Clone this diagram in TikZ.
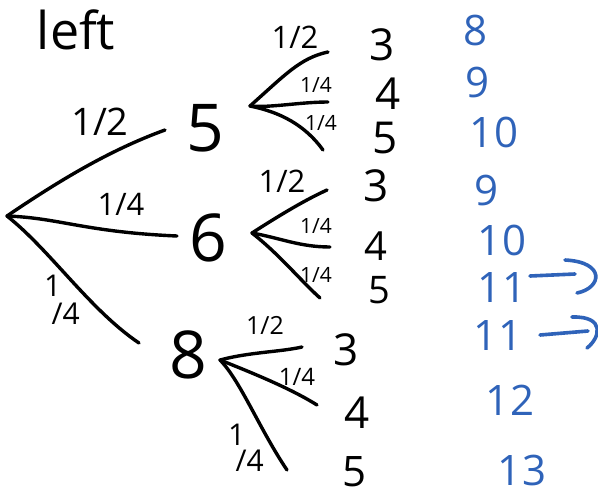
\documentclass[tikz,border=0pt]{standalone}
\usepackage{fontspec}
\setmainfont{Open Sans}
\definecolor{penblue}{HTML}{2F63B9}
\begin{document}
\begin{tikzpicture}[x=1pt,y=-1pt,line cap=round,line join=round,
  br/.style={line width=3.4pt},
  bbr/.style={line width=3.6pt,draw=penblue},
  lab/.style={inner sep=0pt},
  bignum/.style={lab,font=\fontsize{66}{66}\selectfont},
  leaf/.style={lab,font=\fontsize{44}{44}\selectfont},
  fracA/.style={lab,font=\fontsize{38}{38}\selectfont},
  fracB/.style={lab,font=\fontsize{31}{31}\selectfont},
  fracC/.style={lab,font=\fontsize{21}{21}\selectfont},
  stack/.style={lab,align=left,font=\fontsize{30}{26}\selectfont},
  bnum/.style={lab,text=penblue,font=\fontsize{42}{42}\selectfont}]
\useasboundingbox (0,0) rectangle (598,499);

% title
\node[lab,font=\fontsize{52}{52}\selectfont] (title) at (76,30) {left};

% root
\coordinate (r) at (7,216);
\coordinate (a5) at (165,130);
\coordinate (a6) at (177,236);
\coordinate (a8) at (139,343);
\draw[br] (r) .. controls (60,180) and (110,150) .. (a5);
\draw[br] (r) .. controls (60,218) and (85,232) .. (a6);
\draw[br] (r) .. controls (50,250) and (90,310) .. (a8);
\node[fracA] (f1) at (100,122) {1/2};
\node[fracB] (f2) at (121,204) {1/4};
\node[stack] (f3) at (62,300) {1\\[2pt]\hspace*{0.25em}/4};

% first level nodes
\node[bignum] (n5) at (205,128) {5};
\node[bignum] (n6) at (208,238) {6};
\node[bignum] (n8) at (188,355) {8};

% subtree 5
\coordinate (s5) at (250,106);
\coordinate (s5a) at (328,52);
\coordinate (s5b) at (328,102);
\coordinate (s5c) at (323,150);
\draw[br] (s5) .. controls (285,75) and (300,58) .. (s5a);
\draw[br] (s5) .. controls (270,108) and (300,102) .. (s5b);
\draw[br] (s5) .. controls (280,112) and (305,125) .. (s5c);
\node[fracB] (g1) at (295,37) {1/2};
\node[fracC] (g2) at (316,85) {1/4};
\node[fracC] (g3) at (321,123) {1/4};
\node[leaf] (l53) at (382,45) {3};
\node[leaf] (l54) at (388,94) {4};
\node[leaf] (l55) at (385,138) {5};

% subtree 6
\coordinate (s6) at (252,233);
\coordinate (s6a) at (327,190);
\coordinate (s6b) at (330,247);
\coordinate (s6c) at (320,298);
\draw[br] (s6) .. controls (280,215) and (305,200) .. (s6a);
\draw[br] (s6) .. controls (280,238) and (300,247) .. (s6b);
\draw[br] (s6) .. controls (280,255) and (300,280) .. (s6c);
\node[fracB] (h1) at (282,181) {1/2};
\node[fracC] (h2) at (316,226) {1/4};
\node[fracC] (h3) at (316,275) {1/4};
\node[leaf] (l63) at (376,186) {3};
\node[leaf,font=\fontsize{40}{40}\selectfont] (l64) at (376,246) {4};
\node[leaf,font=\fontsize{38}{38}\selectfont] (l65) at (379,290) {5};

% subtree 8
\coordinate (s8) at (220,360);
\coordinate (s8a) at (302,347);
\coordinate (s8b) at (317,405);
\coordinate (s8c) at (287,470);
\draw[br] (s8) .. controls (250,352) and (280,352) .. (s8a);
\draw[br] (s8) .. controls (250,372) and (290,388) .. (s8b);
\draw[br] (s8) .. controls (240,380) and (260,430) .. (s8c);
\node[fracC,font=\fontsize{25}{25}\selectfont] (k1) at (265,325) {1/2};
\node[fracC,font=\fontsize{24}{24}\selectfont] (k2) at (297,377) {1/4};
\node[stack] (k3) at (246,448) {1\\[0pt]\hspace*{0.25em}/4};
\node[leaf] (l83) at (346,350) {3};
\node[leaf] (l84) at (357,413) {4};
\node[leaf,font=\fontsize{42}{42}\selectfont] (l85) at (355,472) {5};

% blue sums
\node[bnum] (b1) at (476,30) {8};
\node[bnum] (b2) at (478,82) {9};
\node[bnum] (b3) at (494,132) {10};
\node[bnum] (b4) at (487,190) {9};
\node[bnum] (b5) at (502,240) {10};
\node[bnum] (b6) at (502,288) {11};
\node[bnum] (b7) at (498,336) {11};
\node[bnum] (b8) at (510,400) {12};
\node[bnum] (b9) at (522,470) {13};

% blue arrows
\coordinate (p1s) at (530,276);
\coordinate (p1e) at (575,274);
\coordinate (p1a) at (565,260);
\coordinate (p1b) at (577,293);
\draw[bbr] (p1s) -- (p1e);
\draw[bbr] (p1a) .. controls (606,262) and (602,288) .. (p1b);
\coordinate (p2s) at (540,335);
\coordinate (p2e) at (588,331);
\coordinate (p2a) at (572,317);
\coordinate (p2b) at (587,348);
\draw[bbr] (p2s) -- (p2e);
\draw[bbr] (p2a) .. controls (606,316) and (600,338) .. (p2b);
\end{tikzpicture}
\end{document}
